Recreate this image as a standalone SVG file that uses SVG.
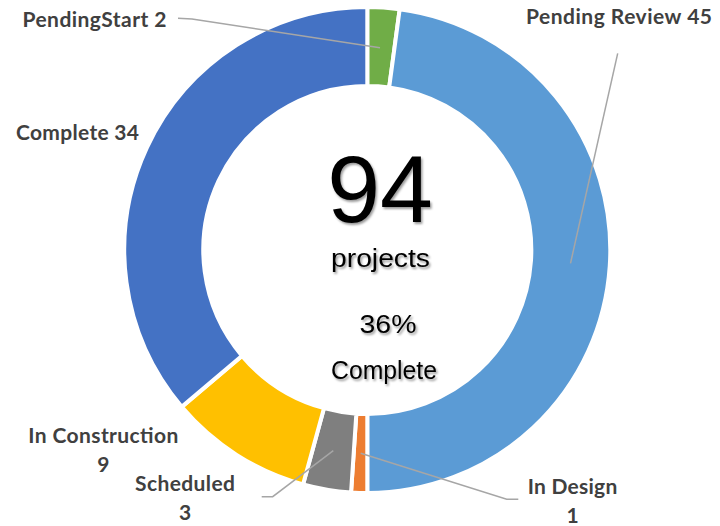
<svg xmlns="http://www.w3.org/2000/svg" width="720" height="526" viewBox="0 0 720 526">
<style>
.seg{stroke:#fff;stroke-width:4;stroke-linejoin:miter}
.lbl{font-family:Lato,"Liberation Sans",sans-serif;font-weight:700;font-size:21px;fill:#404040}
.ctr{font-family:"Liberation Sans",Arial,sans-serif;fill:#000;filter:url(#sh)}
.lead{fill:none;stroke:#A6A6A6;stroke-width:1.5}
</style>
<defs>
<filter id="sh" x="-20%" y="-20%" width="140%" height="140%">
<feDropShadow dx="1.5" dy="2" stdDeviation="1.2" flood-color="#000" flood-opacity="0.4"/>
</filter>
</defs>
<rect width="720" height="526" fill="#fff"/>
<g id="pending-start">
<path class="seg" fill="#70AD47" d="M367.3,7 A243,243 0 0 1 399.69,9.17 L389.16,87.46 A164,164 0 0 0 367.3,86 Z"/>
<text class="lbl" x="22.5" y="26.5" textLength="144" lengthAdjust="spacing">PendingStart 2</text>
</g>
<g id="pending-review">
<path class="seg" fill="#5B9BD5" d="M399.69,9.17 A243,243 0 0 1 367.3,493 L367.3,414 A164,164 0 0 0 389.16,87.46 Z"/>
<text class="lbl" x="526" y="24.3" textLength="186" lengthAdjust="spacing">Pending Review 45</text>
</g>
<g id="in-design">
<path class="seg" fill="#ED7D31" d="M367.3,493 A243,243 0 0 1 351.07,492.46 L356.34,413.63 A164,164 0 0 0 367.3,414 Z"/>
<text class="lbl" x="527.7" y="494.3" textLength="89.6" lengthAdjust="spacing">In Design</text>
<text class="lbl" x="572.5" y="522.7" text-anchor="middle">1</text>
</g>
<g id="scheduled">
<path class="seg" fill="#7F7F7F" d="M351.07,492.46 A243,243 0 0 1 303.10,484.37 L323.97,408.17 A164,164 0 0 0 356.34,413.63 Z"/>
<text class="lbl" x="135" y="490.7" textLength="100" lengthAdjust="spacing">Scheduled</text>
<text class="lbl" x="185" y="520" text-anchor="middle">3</text>
</g>
<g id="in-construction">
<path class="seg" fill="#FFC000" d="M303.10,484.37 A243,243 0 0 1 181.71,406.86 L242.04,355.86 A164,164 0 0 0 323.97,408.17 Z"/>
<text class="lbl" x="28.3" y="443.3" textLength="150" lengthAdjust="spacing">In Construction</text>
<text class="lbl" x="103.3" y="471.7" text-anchor="middle">9</text>
</g>
<g id="complete">
<path class="seg" fill="#4472C4" d="M181.71,406.86 A243,243 0 0 1 367.3,7 L367.3,86 A164,164 0 0 0 242.04,355.86 Z"/>
<text class="lbl" x="16" y="140" textLength="123" lengthAdjust="spacing">Complete 34</text>
</g>
<g id="connectors">
<polyline class="lead" points="178,18.3 192,19 380,47.7"/>
<polyline class="lead" points="617.7,53.3 570.5,263.3"/>
<polyline class="lead" points="261.7,496.7 272.7,496.7 333.3,450.7"/>
<polyline class="lead" points="360.7,453.3 506.7,499.3 518.3,499.3"/>
</g>
<g id="center">
<text class="ctr" x="380" y="221.7" font-size="95" text-anchor="middle">94</text>
<text class="ctr" x="331" y="267.3" font-size="26" textLength="99" lengthAdjust="spacingAndGlyphs">projects</text>
<text class="ctr" x="359.5" y="333.3" font-size="25.6" textLength="57" lengthAdjust="spacingAndGlyphs">36%</text>
<text class="ctr" x="331" y="379.3" font-size="25" textLength="106" lengthAdjust="spacingAndGlyphs">Complete</text>
</g>
</svg>
